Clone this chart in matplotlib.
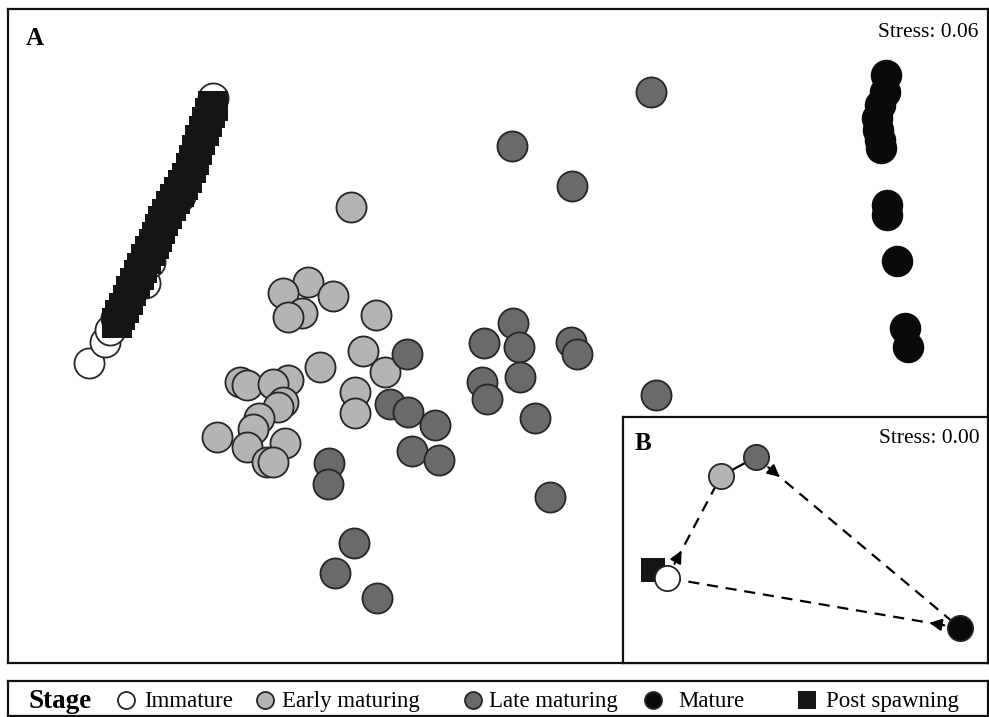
import numpy as np
import matplotlib
matplotlib.use('Agg')
from matplotlib import pyplot as plt
from matplotlib.patches import FancyArrowPatch

plt.rcParams['font.family'] = ['Liberation Serif', 'DejaVu Serif']

W, H = 989, 717

# NMDS ordination coordinates, panel A (screen units)
immature_x = [89, 105, 110, 116, 145, 150, 180, 213]
immature_y = [363, 342, 330, 318, 283, 262, 196, 98]

early_x = [351, 308, 283, 333, 302, 288, 376, 363, 320, 385, 240, 247, 288, 273, 283,
           278, 355, 355, 259, 253, 217, 247, 285, 267, 273]
early_y = [207, 282, 293, 296, 313, 317, 315, 351, 367, 372, 382, 385, 380, 384, 402,
           407, 392, 413, 418, 429, 437, 447, 443, 462, 462]

late_x = [651, 512, 572, 407, 513, 484, 519, 571, 577, 482, 487, 520, 656, 390, 408,
          435, 535, 412, 439, 329, 328, 550, 354, 335, 377]
late_y = [92, 146, 186, 354, 323, 343, 347, 342, 354, 382, 399, 377, 395, 404, 412,
          425, 418, 451, 460, 463, 484, 497, 543, 573, 598]

mature_x = [886, 885, 880, 877, 878, 880, 881, 887, 887, 897, 905, 908]
mature_y = [75, 92, 105, 118, 130, 140, 148, 205, 215, 261, 328, 347]

post_x = [117, 120, 124, 128, 131, 135, 139, 142, 146, 150, 154, 157, 160, 163, 167,
          171, 175, 179, 183, 187, 191, 194, 197, 200, 204, 207, 210, 213]
post_y = [323, 315, 308, 300, 291, 283, 275, 268, 259, 251, 244, 237, 229, 221, 214,
          206, 199, 192, 185, 178, 168, 160, 150, 140, 131, 122, 113, 106]

# panel B: stage centroids
stages = ['Immature', 'Early maturing', 'Late maturing', 'Mature', 'Post spawning']
centroid_x = [667, 721, 756, 960, 653]
centroid_y = [578, 476, 457, 628, 570]

COLORS = {'Immature': 'white', 'Early maturing': '#b4b4b4', 'Late maturing': '#6a6a6a',
          'Mature': '#0a0a0a', 'Post spawning': '#151515'}
MARKERS = {'Immature': 'o', 'Early maturing': 'o', 'Late maturing': 'o',
           'Mature': 'o', 'Post spawning': 's'}
EDGE = '#262626'


def px_axes(fig, left, top, right, bottom):
    ax = fig.add_axes([left / W, 1 - bottom / H, (right - left) / W, (bottom - top) / H])
    ax.set_xlim(left, right)
    ax.set_ylim(bottom, top)
    ax.set_xticks([])
    ax.set_yticks([])
    for s in ax.spines.values():
        s.set_linewidth(1.6)
        s.set_color('#111111')
    return ax


fig = plt.figure(figsize=(W / 100, H / 100), dpi=100)

# panel A
ax = px_axes(fig, 8, 9, 988, 663)
circle_s = 470
ax.scatter(early_x, early_y, s=circle_s, c=COLORS['Early maturing'], edgecolors=EDGE, linewidths=1.3, zorder=2)
ax.scatter(late_x, late_y, s=circle_s, c=COLORS['Late maturing'], edgecolors=EDGE, linewidths=1.3, zorder=3)
ax.scatter(mature_x, mature_y, s=circle_s, c=COLORS['Mature'], edgecolors=COLORS['Mature'], linewidths=1.0, zorder=3)
ax.scatter(immature_x, immature_y, s=circle_s, c=COLORS['Immature'], edgecolors=EDGE, linewidths=1.3, zorder=3)
ax.scatter(post_x, post_y, s=440, marker='s', c=COLORS['Post spawning'], edgecolors='none', zorder=4)
ax.text(26, 45, 'A', fontsize=18, fontweight='bold', ha='left', va='baseline')
ax.text(978, 37, 'Stress: 0.06', fontsize=15.5, ha='right', va='baseline')

# panel B inset
bx = px_axes(fig, 623, 417, 988, 663)
bx.set_facecolor('white')
bx.set_zorder(5)
seq = [0, 1, 2, 3, 0]
for a, b in zip(seq[:-1], seq[1:]):
    x0, y0, x1, y1 = centroid_x[a], centroid_y[a], centroid_x[b], centroid_y[b]
    if (a, b) == (1, 2):
        bx.plot([x0, x1], [y0, y1], color='black', lw=1.6, zorder=1)
        continue
    bx.plot([x0, x1], [y0, y1], color='black', lw=1.6, ls=(0, (5, 3.5)), zorder=1)
    d = np.hypot(x1 - x0, y1 - y0)
    ux, uy = (x1 - x0) / d, (y1 - y0) / d
    arrow = FancyArrowPatch((x0 + ux * 16, y0 + uy * 16), (x0 + ux * 31, y0 + uy * 31),
                            arrowstyle='-|>,head_length=7,head_width=3.5', color='black',
                            lw=1.6, shrinkA=0, shrinkB=0, mutation_scale=1, zorder=2)
    bx.add_patch(arrow)
for i, st in enumerate(stages):
    z = 4 if st == 'Immature' else 3
    bx.scatter(centroid_x[i], centroid_y[i], s=330 if MARKERS[st] == 'o' else 300, marker=MARKERS[st],
               c=COLORS[st], edgecolors=EDGE if st != 'Post spawning' else 'none', linewidths=1.3, zorder=z)
bx.text(635, 450, 'B', fontsize=18, fontweight='bold', ha='left', va='baseline')
bx.text(980, 443, 'Stress: 0.00', fontsize=15.5, ha='right', va='baseline')

# legend strip
lx = px_axes(fig, 8, 681, 988, 716)
lx.text(28, 708, 'Stage', fontsize=19.5, fontweight='bold', ha='left', va='baseline')
legend_pos = [126, 265, 473, 653, 807]
text_pos = [144, 282, 489, 678, 826]
for st, mx, tx in zip(stages, legend_pos, text_pos):
    if MARKERS[st] == 's':
        lx.scatter(mx, 700, s=150, marker='s', c=COLORS[st], edgecolors='none')
    else:
        lx.scatter(mx, 700, s=150, marker='o', c=COLORS[st], edgecolors=EDGE, linewidths=1.3)
    lx.text(tx, 707, st, fontsize=16.5, ha='left', va='baseline')

fig.savefig('out.png', dpi=100)
